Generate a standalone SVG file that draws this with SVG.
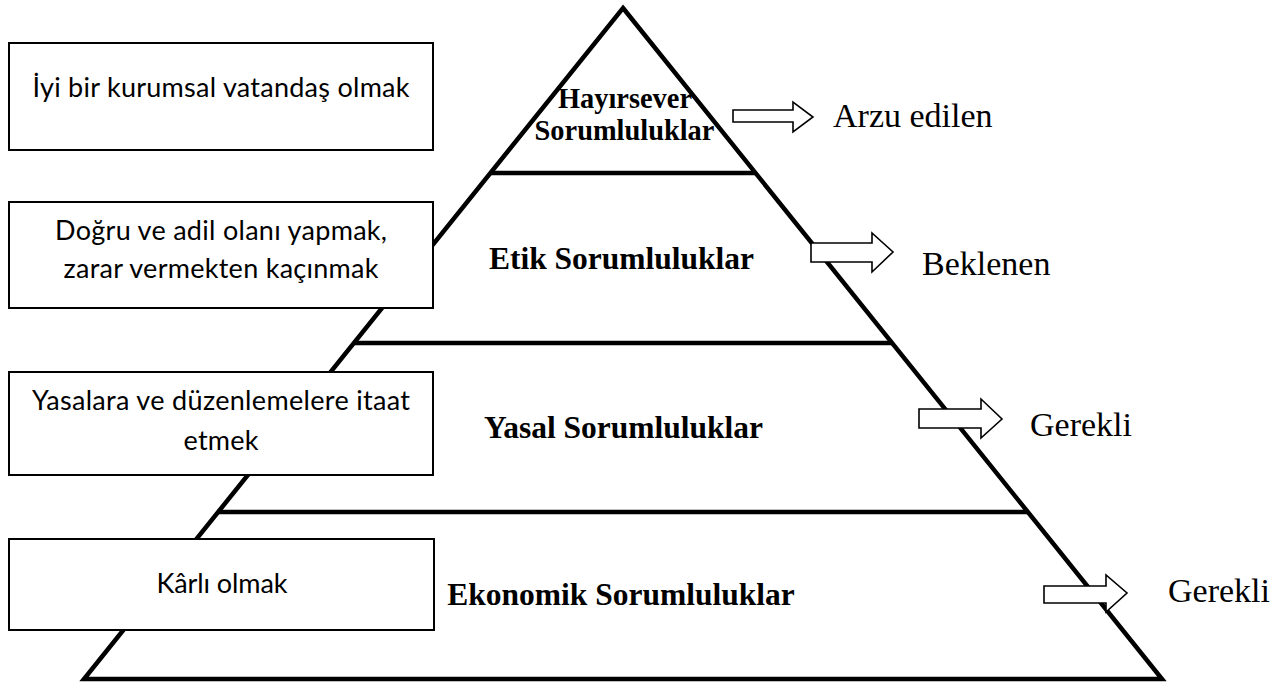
<svg xmlns="http://www.w3.org/2000/svg" width="1285" height="688" viewBox="0 0 1285 688">
<style>
.tri{fill:none;stroke:#000;stroke-width:4.5;stroke-linejoin:miter;stroke-miterlimit:20}
.lvl{stroke:#000;stroke-width:4.5}
.box{fill:#fff;stroke:#000;stroke-width:2}
.arr{fill:#fff;stroke:#000;stroke-width:1.6;stroke-linejoin:miter}
.bt{font-family:Lato,"Open Sans",sans-serif;font-size:27px;fill:#000;text-anchor:middle}
.pl{font-family:"Liberation Serif","Times New Roman",serif;font-weight:bold;font-size:31.5px;fill:#000;text-anchor:middle}
.pt{font-size:28.4px}
.rl{font-family:"Liberation Serif","Times New Roman",serif;font-size:34px;fill:#000}
</style>
<rect width="1285" height="688" fill="#fff"/>
<g id="pyramid">
<polygon class="tri" points="623,8 1162,679 84,679"/>
<line class="lvl" x1="490" y1="173" x2="756" y2="173"/>
<line class="lvl" x1="353" y1="343" x2="893" y2="343"/>
<line class="lvl" x1="217" y1="512" x2="1029" y2="512"/>
</g>
<g id="level-hayirsever">
<text class="pl pt" x="625" y="108">Hayırsever</text>
<text class="pl pt" x="624.5" y="140">Sorumluluklar</text>
</g>
<g id="level-etik">
<text class="pl" x="621.5" y="269">Etik Sorumluluklar</text>
</g>
<g id="level-yasal">
<text class="pl" x="623.5" y="438">Yasal Sorumluluklar</text>
</g>
<g id="level-ekonomik">
<text class="pl" x="621" y="605">Ekonomik Sorumluluklar</text>
</g>
<g id="connectors">
<polygon class="arr" points="733,110 793,110 793,102 813,117 793,132 793,122 733,122"/>
<polygon class="arr" points="811,243 872,243 872,233 893,252 872,272 872,262 811,262"/>
<polygon class="arr" points="919,409 981,409 981,399 1002,419 981,438 981,428 919,428"/>
<polygon class="arr" points="1044,586 1106,586 1106,575 1127,593 1106,612 1106,603 1044,603"/>
</g>
<g id="label-arzu"><text class="rl" x="833" y="127">Arzu edilen</text></g>
<g id="label-beklenen"><text class="rl" x="922" y="275">Beklenen</text></g>
<g id="label-gerekli-1"><text class="rl" x="1030" y="436">Gerekli</text></g>
<g id="label-gerekli-2"><text class="rl" x="1168" y="602">Gerekli</text></g>
<g id="box-1">
<rect class="box" x="9" y="43" width="424" height="107"/>
<text class="bt" x="221" y="97" textLength="377">İyi bir kurumsal vatandaş olmak</text>
</g>
<g id="box-2">
<rect class="box" x="9" y="202" width="424" height="106"/>
<text class="bt" x="221" y="240" textLength="332">Doğru ve adil olanı yapmak,</text>
<text class="bt" x="221" y="278" textLength="315">zarar vermekten kaçınmak</text>
</g>
<g id="box-3">
<rect class="box" x="9" y="372" width="424" height="103"/>
<text class="bt" x="221" y="410" textLength="378">Yasalara ve düzenlemelere itaat</text>
<text class="bt" x="221" y="450" textLength="75">etmek</text>
</g>
<g id="box-4">
<rect class="box" x="9" y="539" width="425" height="91"/>
<text class="bt" x="222" y="593" textLength="131">Kârlı olmak</text>
</g>
</svg>
